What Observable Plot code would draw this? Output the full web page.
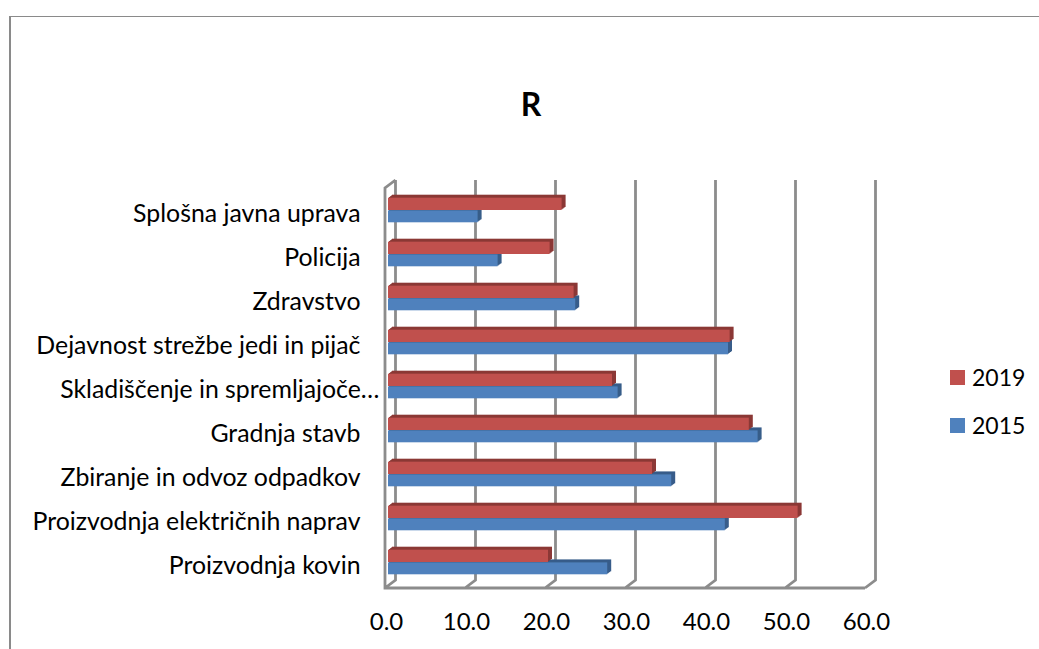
<!DOCTYPE html>
<html><head><meta charset="utf-8">
<script src="https://cdn.jsdelivr.net/npm/d3@7"></script>
<script src="https://cdn.jsdelivr.net/npm/@observablehq/plot@0.6"></script>
<style>
html,body{margin:0;padding:0;background:#fff;overflow:hidden}
#wrap{position:relative;width:1039px;height:649px;font-family:Lato,sans-serif;color:#000}
#wrap svg{position:absolute;left:0;top:0;font-family:Lato,sans-serif}
#border{position:absolute;left:9px;top:16px;right:0;bottom:0;border-left:2px solid #8a8a8a;border-top:1.5px solid #8a8a8a}
#title{position:absolute;left:431px;width:200px;top:86px;text-align:center;font-weight:700;font-size:32px;line-height:36px}
.leg{position:absolute;left:950px;font-size:23px;line-height:28px;white-space:nowrap}
.leg i{position:absolute;left:0;top:7px;width:15px;height:15px}
.leg span{position:absolute;left:22px;top:0}
</style></head>
<body><div id="wrap"><div id="border"></div><div id="title">R</div></div>
<script>
const categories = ["Splošna javna uprava","Policija","Zdravstvo","Dejavnost strežbe jedi in pijač","Skladiščenje in spremljajoče…","Gradnja stavb","Zbiranje in odvoz odpadkov","Proizvodnja električnih naprav","Proizvodnja kovin"];
const values2019 = [21.7,20.2,23.2,42.7,28.0,45.1,33.0,51.2,20.0];
const values2015 = [11.2,13.7,23.4,42.5,28.7,46.2,35.4,42.1,27.4];
const xTicks = [0,10,20,30,40,50,60];
const legendItems = [["2019","#c0504d"],["2015","#4f81bd"]];

const rows = categories.map((c,i)=>({c,a:values2019[i],b:values2015[i]}));
const wallColor = "#8c8c8c";
function walls(index,{x},values,{marginTop,height,marginBottom}){
  const g = d3.create("svg:g").attr("fill","none").attr("stroke",wallColor).attr("stroke-width",2.8);
  const y0 = marginTop, y1 = height-marginBottom, fx=-3, bx=7.5, by=-8;
  const p = d3.path();
  for(const t of xTicks){
    p.moveTo(x(t)+bx,y0+by); p.lineTo(x(t)+bx,y1+by); p.lineTo(x(t)+fx,y1);
  }
  p.moveTo(x(0)+bx,y0+by); p.lineTo(x(0)+fx,y0); p.lineTo(x(0)+fx,y1); p.lineTo(x(60)+fx,y1);
  g.append("path").attr("d",p.toString());
  return g.node();
}
const depth=[4,3,2,1];
const bars=(key,fill,dark,insetTop,insetBottom)=>[
  ...depth.map(k=>Plot.barX(rows,{x:key,y:"c",fill:dark,insetTop,insetBottom,dx:k,dy:-k*0.75})),
  Plot.barX(rows,{x:key,y:"c",fill,insetTop,insetBottom})
];
const isLong=c=>c.startsWith("Sklad");
const chart = Plot.plot({
  width:1039,height:649,
  marginTop:188,marginBottom:61,marginLeft:388,marginRight:171,
  x:{domain:[0,60],range:[388,868]},
  y:{domain:categories,range:[186.3,585.5],padding:0},
  style:{background:"transparent",fontFamily:"Lato,sans-serif"},
  marks:[
    walls,
    ...bars("b","#4f81bd","#385d8a",22.4,9.7),
    ...bars("a","#c0504d","#8c3836",9.7,22.0),
    Plot.axisY(categories.filter(c=>!isLong(c)),{anchor:"left",tickSize:0,tickPadding:0,dx:-28,dy:4,label:null,fontSize:24.85,textAnchor:"end"}),
    Plot.axisY(categories.filter(isLong),{anchor:"left",tickSize:0,tickPadding:0,dx:-9,dy:4,label:null,fontSize:24.85,textAnchor:"end"}),
    Plot.axisX(xTicks,{anchor:"bottom",tickSize:0,tickPadding:24,dx:-2,tickFormat:d3.format(".1f"),label:null,fontSize:24})
  ]
});
const wrap=document.getElementById("wrap");
wrap.appendChild(chart);
legendItems.forEach(([t,col],i)=>{
  const d=document.createElement("div");d.className="leg";d.style.top=(363+i*48)+"px";
  d.innerHTML=`<i style="background:${col}"></i><span>${t}</span>`;wrap.appendChild(d);
});
</script></body></html>
